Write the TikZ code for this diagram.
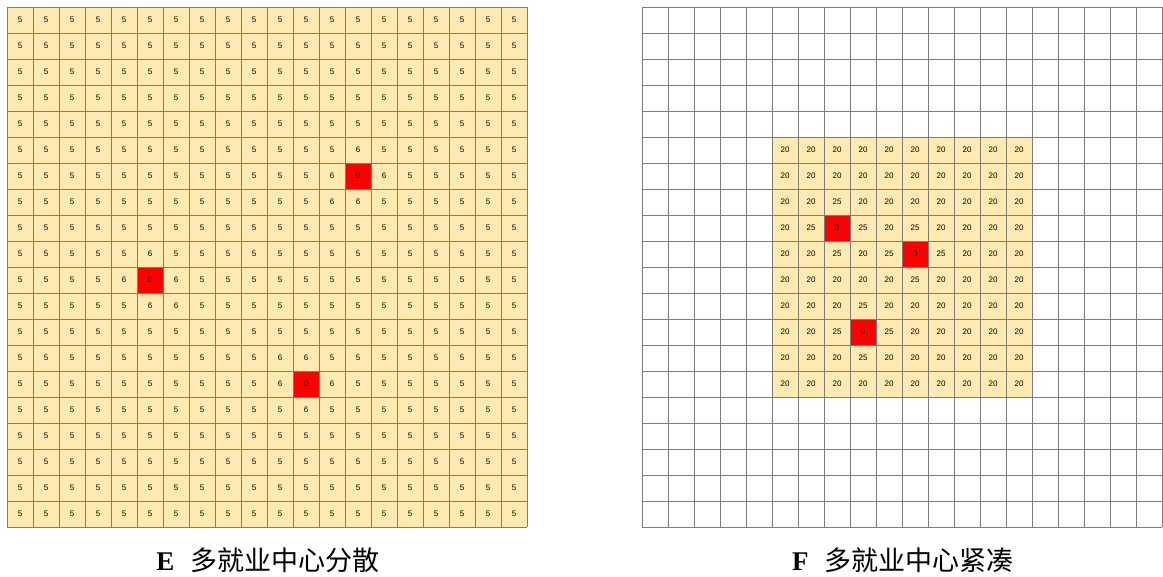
\documentclass[tikz,border=0pt]{standalone}
\usepackage{fontspec}
\setmainfont{Liberation Serif}
\setsansfont{Liberation Sans}
\newfontfamily\cjk{Noto Sans CJK SC}
\definecolor{cellfill}{HTML}{FFEAB2}
\definecolor{gridc}{HTML}{7C7C7C}
\definecolor{hotred}{HTML}{FF0000}
\def\setv#1#2#3#4{\expandafter\def\csname v#1-#2-#3\endcsname{#4}}
% left grid (E) special values
\setv{E}{6}{13}{0}\setv{E}{10}{5}{0}\setv{E}{14}{11}{0}
\setv{E}{5}{13}{6}\setv{E}{6}{12}{6}\setv{E}{6}{14}{6}\setv{E}{7}{12}{6}\setv{E}{7}{13}{6}
\setv{E}{9}{5}{6}\setv{E}{10}{4}{6}\setv{E}{10}{6}{6}\setv{E}{11}{5}{6}\setv{E}{11}{6}{6}
\setv{E}{13}{10}{6}\setv{E}{13}{11}{6}\setv{E}{14}{10}{6}\setv{E}{14}{12}{6}\setv{E}{15}{11}{6}
% right grid (F) special values
\setv{F}{8}{7}{0}\setv{F}{9}{10}{0}\setv{F}{12}{8}{0}
\setv{F}{7}{7}{25}\setv{F}{8}{6}{25}\setv{F}{8}{8}{25}\setv{F}{8}{10}{25}
\setv{F}{9}{7}{25}\setv{F}{9}{9}{25}\setv{F}{9}{11}{25}\setv{F}{10}{10}{25}
\setv{F}{11}{8}{25}\setv{F}{12}{7}{25}\setv{F}{12}{9}{25}\setv{F}{13}{8}{25}
\begin{document}
\begin{tikzpicture}[x=1pt,y=1pt,
  cellnum/.style={font=\sffamily\fontsize{8}{9}\selectfont, inner sep=0pt},
  hotcell/.style={fill=hotred},
  basecell/.style={fill=cellfill},
  gridline/.style={draw=gridc, line width=0.9pt},
  captext/.style={font=\fontsize{27}{30}\selectfont, inner sep=0pt, anchor=base}]
\useasboundingbox (0,0) rectangle (1163,-577);
% ---------- Left grid E ----------
\begin{scope}[shift={(7,-7)}]
  \fill[basecell] (0,0) rectangle (520,-520);
  \foreach \r in {0,...,19}{
    \foreach \c in {0,...,19}{
      \ifcsname vE-\r-\c\endcsname
        \edef\val{\csname vE-\r-\c\endcsname}%
      \else
        \def\val{5}%
      \fi
      \ifnum\val=0
        \fill[hotcell] (26*\c,-26*\r) rectangle (26*\c+26,-26*\r-26);
      \fi
      \node[cellnum] (e-\r-\c) at (26*\c+13,-26*\r-13) {\val};
    }
  }
  \draw[gridline] (0,0) grid[step=26pt] (520,-520);
\end{scope}
% ---------- Right grid F ----------
\begin{scope}[shift={(642,-7)}]
  \fill[basecell] (130,-130) rectangle (390,-390);
  \foreach \r in {5,...,14}{
    \foreach \c in {5,...,14}{
      \ifcsname vF-\r-\c\endcsname
        \edef\val{\csname vF-\r-\c\endcsname}%
      \else
        \def\val{20}%
      \fi
      \ifnum\val=0
        \fill[hotcell] (26*\c,-26*\r) rectangle (26*\c+26,-26*\r-26);
      \fi
      \node[cellnum] (f-\r-\c) at (26*\c+13,-26*\r-13) {\val};
    }
  }
  \draw[gridline] (0,0) grid[step=26pt] (520,-520);
\end{scope}
% ---------- Captions ----------
\node[captext] (capE) at (268,-570) {\textbf{E}\hspace{0.6em}{\cjk 多就业中心分散}};
\node[captext] (capF) at (903,-570) {\textbf{F}\hspace{0.6em}{\cjk 多就业中心紧凑}};
\end{tikzpicture}
\end{document}
